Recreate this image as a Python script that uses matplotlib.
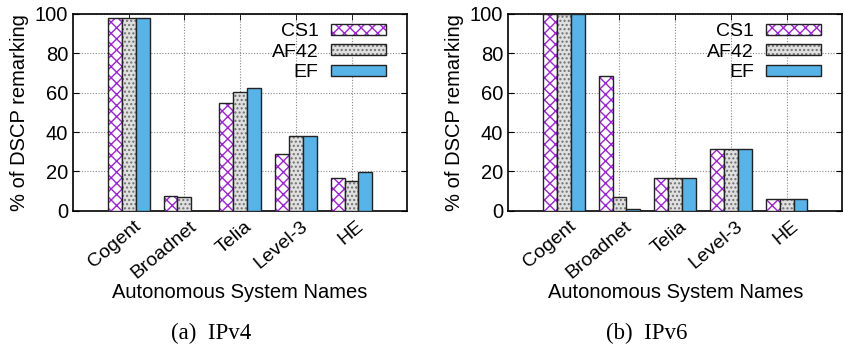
import numpy as np
import matplotlib
matplotlib.use("Agg")
import matplotlib.pyplot as plt
from matplotlib.colors import to_rgba

plt.rcParams['font.family'] = ['Liberation Sans', 'DejaVu Sans']
plt.rcParams['hatch.linewidth'] = 1.0

systems = ["Cogent", "Broadnet", "Telia", "Level-3", "HE"]
classes = ["CS1", "AF42", "EF"]

#IPv4 remarking percentages per class
ipv4_cs1 = [97.8, 7.3, 54.7, 28.9, 16.8]
ipv4_af42 = [97.8, 6.9, 60.2, 38.1, 15.2]
ipv4_ef = [97.8, 0.0, 62.3, 38.1, 19.6]

#IPv6 remarking percentages per class
ipv6_cs1 = [100.0, 68.4, 16.6, 31.6, 5.9]
ipv6_af42 = [100.0, 6.9, 16.6, 31.6, 5.9]
ipv6_ef = [100.0, 1.0, 16.6, 31.6, 5.9]

captions = ["(a)  IPv4", "(b)  IPv6"]

styles = [
    dict(facecolor="white", hatch="xxx", hatch_color="#a020e0"),
    dict(facecolor="#e0e0e0", hatch="....", hatch_color="#707070"),
    dict(facecolor="#56b4e9", hatch=None, hatch_color=None),
]


def draw_panel(ax, series):
    x = np.arange(len(systems))
    w = 0.25
    for i, (vals, st, name) in enumerate(zip(series, styles, classes)):
        bars = ax.bar(x + (i - 1) * w, vals, width=w, facecolor=st["facecolor"],
                      edgecolor="#222222", linewidth=1.0, label=name, zorder=3)
        if st["hatch"]:
            for b in bars:
                b.set_hatch(st["hatch"])
                b._hatch_color = to_rgba(st["hatch_color"])
    ax.set_xlim(-1, 5)
    ax.set_ylim(0, 100)
    ax.set_yticks([0, 20, 40, 60, 80, 100])
    ax.tick_params(axis="y", direction="in", labelsize=14.5, length=4, right=True)
    #rotated labels sit on shifted major ticks, real tick marks are minor ones
    ax.set_xticks(x + 0.08)
    ax.set_xticklabels(systems, rotation=40, ha="right", rotation_mode="anchor")
    ax.tick_params(axis="x", labelsize=14, pad=5, length=0)
    ax.set_xticks(x, minor=True)
    ax.tick_params(axis="x", which="minor", direction="in", length=4, top=True)
    ax.grid(True, which="minor", axis="x", linestyle=(0, (1, 1.5)), color="#888888",
            linewidth=0.8, zorder=0)
    ax.grid(True, which="major", axis="y", linestyle=(0, (1, 1.5)), color="#888888",
            linewidth=0.8, zorder=0)
    for s in ax.spines.values():
        s.set_linewidth(1.2)
    ax.set_ylabel("% of DSCP remarking", fontsize=14.5, labelpad=4)
    ax.set_xlabel("Autonomous System Names", fontsize=14.5, labelpad=1)
    leg = ax.legend(loc="upper right", frameon=False, fontsize=14, markerfirst=False,
                    handlelength=2.8, handleheight=0.5, labelspacing=0.17,
                    borderaxespad=0.2, handletextpad=0.65, borderpad=0.3)
    for t in leg.get_texts():
        t.set_ha("right")
    ax.legend_.set_bbox_to_anchor((0.965, 1.0), transform=ax.transAxes)


fig = plt.figure(figsize=(8.44, 3.44), dpi=100)
ax1 = fig.add_axes([0.0865, 0.387, 0.396, 0.573])
ax2 = fig.add_axes([0.602, 0.387, 0.396, 0.573])
draw_panel(ax1, [ipv4_cs1, ipv4_af42, ipv4_ef])
draw_panel(ax2, [ipv6_cs1, ipv6_af42, ipv6_ef])

fig.text(0.25, 0.015, captions[0], ha="center", fontsize=16.5, family="Liberation Serif")
fig.text(0.766, 0.015, captions[1], ha="center", fontsize=16.5, family="Liberation Serif")

fig.savefig("out.png", dpi=100)
